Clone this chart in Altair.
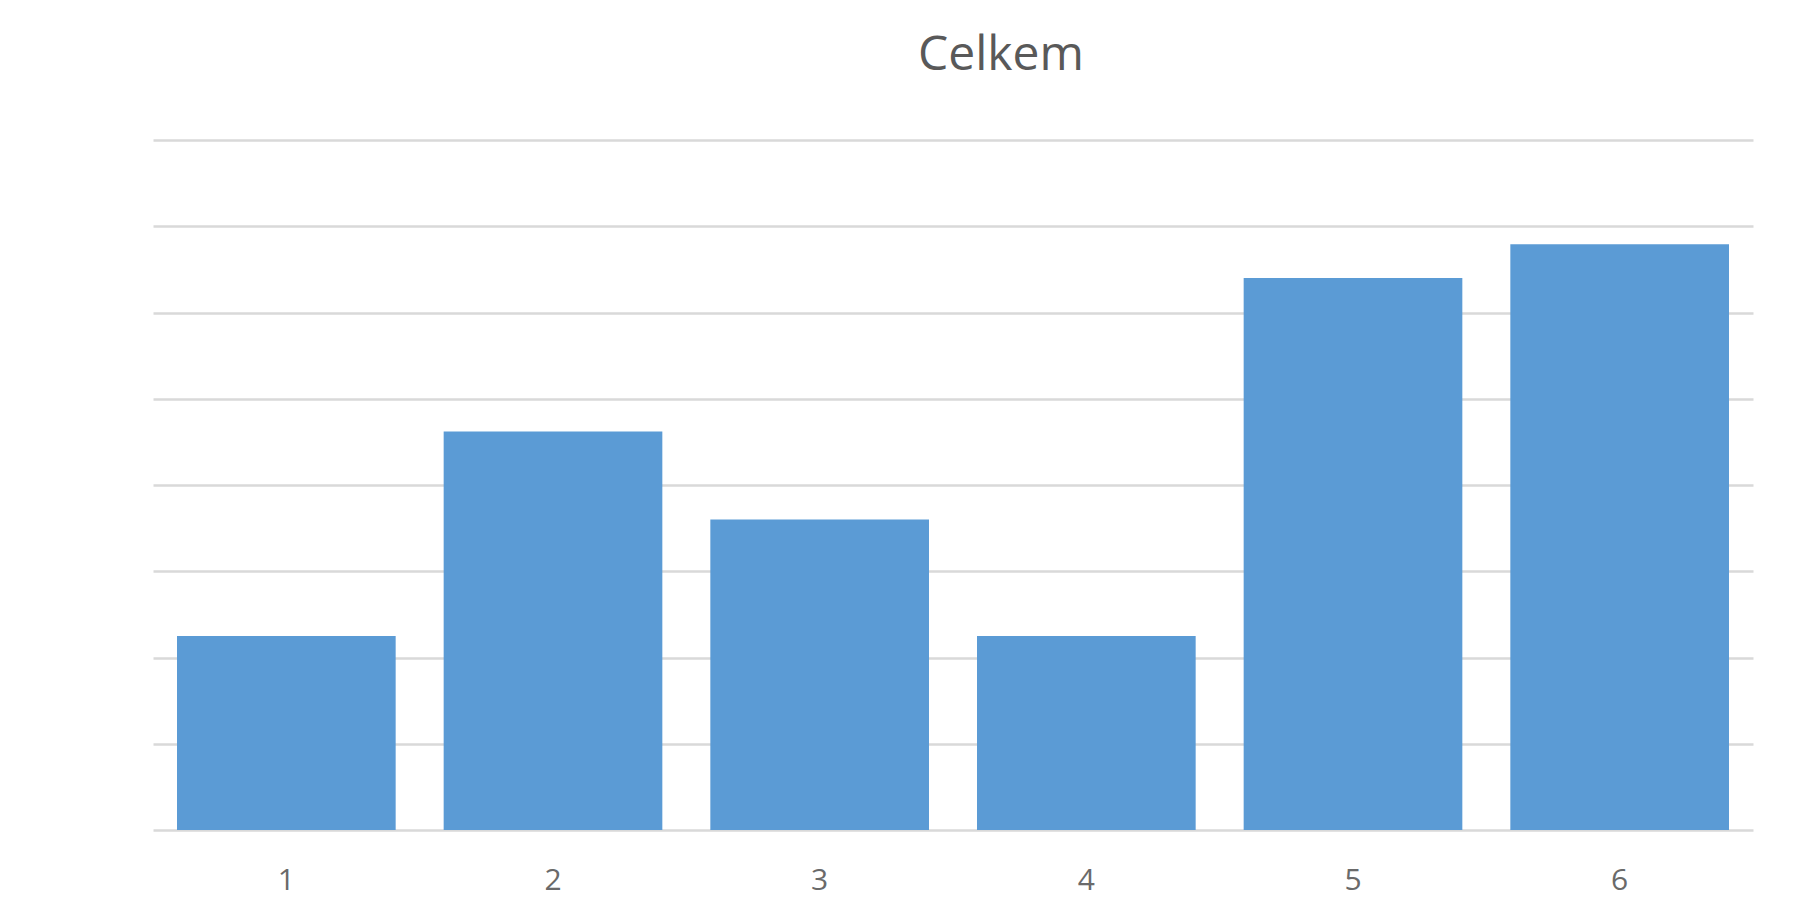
import altair as alt
import pandas as pd

categories = ["1", "2", "3", "4", "5", "6"]
values = [2.25, 4.62, 3.6, 2.25, 6.4, 6.79]
y_ticks = [0, 1, 2, 3, 4, 5, 6, 7, 8]

df = pd.DataFrame({"cat": categories, "val": values})

chart = alt.Chart(df).mark_bar(color="#5b9bd5").encode(
    x=alt.X("cat:N", sort=categories,
            scale=alt.Scale(paddingInner=0.18, paddingOuter=0.09),
            axis=alt.Axis(title=None, labelAngle=0, labelFontSize=30,
                          labelColor="#6a6a6a", labelFont="Open Sans",
                          labelPadding=35, ticks=False, domain=False, grid=False)),
    y=alt.Y("val:Q", scale=alt.Scale(domain=[0, 8], nice=False),
            axis=alt.Axis(title=None, labels=False, ticks=False, domain=False,
                          values=y_ticks, gridColor="#d9d9d9", gridWidth=2.5)),
).properties(
    width=1600, height=690,
    title=alt.TitleParams("Celkem", anchor="middle", dx=48, offset=60,
                          fontSize=48, font="Open Sans", fontWeight="normal",
                          color="#595959"),
    autosize=alt.AutoSizeParams(type="none"),
    padding={"left": 145, "top": 132, "right": 38, "bottom": 75},
    background="white",
).configure_view(stroke=None)

chart.save("out.html", embed_options={"renderer": "svg", "actions": False})
